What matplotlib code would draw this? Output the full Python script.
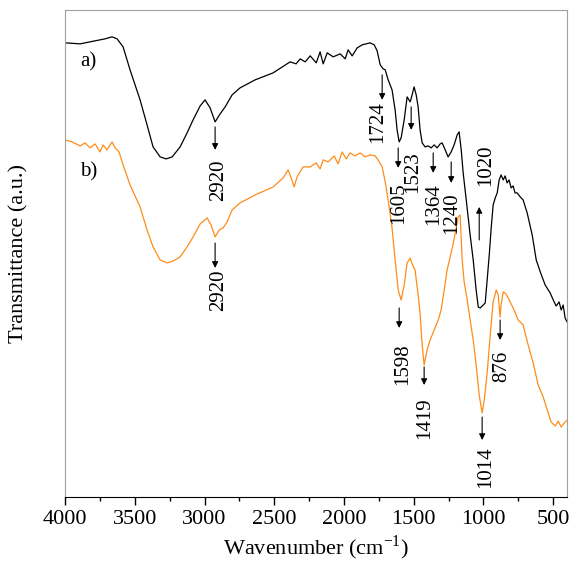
import matplotlib.pyplot as plt
from matplotlib.ticker import MultipleLocator

# --- Data (transmittance in arbitrary units) ---
wn_a = [4000, 3892, 3785, 3713, 3663, 3627, 3584, 3534, 3462, 3412, 3369, 3318,
        3275, 3232, 3175, 3125, 3082, 3031, 2996, 2960, 2924, 2888, 2852, 2802,
        2745, 2637, 2508, 2386, 2343, 2314, 2278, 2242, 2199, 2171, 2149, 2120,
        2077, 2027, 1991, 1970, 1941, 1905, 1869, 1841, 1812, 1783, 1762, 1740,
        1719, 1704, 1683, 1655, 1633, 1619, 1604, 1590, 1568, 1547, 1525, 1511,
        1497, 1482, 1468, 1454, 1439, 1418, 1396, 1375, 1353, 1332, 1310, 1296,
        1274, 1253, 1231, 1210, 1188, 1174, 1159, 1145, 1123, 1095, 1073, 1052,
        1037, 1023, 1001, 987, 973, 958, 944, 930, 915, 901, 887, 873, 858, 844,
        830, 816, 801, 787, 773, 758, 736, 715, 686, 650, 621, 592, 557, 521,
        499, 478, 457, 442, 428, 414, 399]
t_a = [457, 456, 459, 461, 463, 461, 453, 430, 400, 375, 353, 343,
       341, 343, 353, 367, 380, 394, 400, 392, 378, 386, 393, 405,
       412, 420, 427, 438, 436, 441, 438, 444, 437, 448, 436, 447,
       443, 446, 441, 450, 444, 452, 455, 456, 457, 455, 449, 435,
       431, 430, 420, 410, 390, 370, 358, 362, 380, 403, 398, 405,
       413, 405, 393, 370, 357, 353, 354, 352, 355, 352, 356, 357,
       350, 343, 348, 355, 365, 368, 350, 327, 300, 265, 240, 210,
       193, 192, 195, 197, 220, 245, 272, 295, 302, 307, 320, 325, 320, 324,
       317, 320, 312, 314, 307, 307, 303, 300, 287, 265, 240, 228, 215, 207,
       200, 194, 198, 190, 195, 182, 178]

wn_b = [4000, 3950, 3892, 3857, 3821, 3785, 3749, 3727, 3699, 3663, 3641, 3613,
        3584, 3534, 3462, 3412, 3369, 3318, 3268, 3225, 3175, 3125, 3082, 3031,
        2981, 2953, 2924, 2895, 2867, 2838, 2802, 2745, 2637, 2508, 2436, 2400,
        2379, 2357, 2336, 2293, 2242, 2199, 2171, 2149, 2113, 2070, 2042, 2013,
        1984, 1956, 1920, 1884, 1848, 1812, 1776, 1755, 1726, 1704, 1683, 1655,
        1633, 1611, 1590, 1568, 1547, 1525, 1511, 1490, 1468, 1454, 1439, 1425,
        1404, 1382, 1353, 1324, 1303, 1281, 1260, 1238, 1217, 1195, 1181, 1167,
        1152, 1138, 1116, 1095, 1073, 1052, 1030, 1009, 994, 973, 951, 930,
        908, 894, 880, 873, 858, 837, 808, 780, 751, 715, 679, 643, 607, 571,
        535, 514, 485, 464, 442, 421, 399]
t_b = [360, 358, 354, 357, 352, 356, 348, 355, 350, 358, 352, 348,
       335, 315, 293, 270, 253, 240, 237, 239, 243, 253, 263, 276,
       282, 275, 263, 270, 272, 278, 290, 297, 305, 313, 322, 330,
       322, 313, 323, 333, 333, 337, 331, 340, 338, 344, 336, 348,
       341, 347, 344, 347, 343, 345, 344, 340, 333, 318, 300, 272,
       240, 210, 200, 215, 237, 242, 236, 230, 205, 187, 155, 135,
       150, 160, 170, 180, 190, 210, 230, 243, 256, 272, 283, 285,
       240, 218, 200, 180, 160, 135, 105, 87, 100, 127, 165, 198,
       210, 205, 183, 195, 208, 206, 198, 190, 180, 175, 155, 137, 115, 103,
       87, 78, 74, 79, 73, 77, 80]

# peak labels: text, arrow x, arrow tail y, arrow head y, text x, text y
peaks = [
    ("2920", 2924, 373, 350, 2902, 320),
    ("2920", 2924, 257, 232, 2902, 210),
    ("1724", 1726, 425, 400, 1755, 378),
    ("1605", 1611, 352, 332, 1611, 297),
    ("1523", 1518, 393, 370, 1504, 328),
    ("1364", 1360, 347, 327, 1360, 296),
    ("1240", 1231, 338, 317, 1224, 287),
    ("1020", 1030, 260, 293, 987, 335),
    ("1598", 1604, 192, 172, 1582, 136),
    ("1419", 1425, 133, 115, 1418, 82),
    ("1014", 1009, 83, 60, 987, 33),
    ("876", 880, 180, 160, 865, 134),
]

plt.rcParams['font.family'] = ['Liberation Serif', 'DejaVu Serif']

fig = plt.figure(figsize=(5.81, 5.78), dpi=100)
ax = fig.add_axes([0.112, 0.140, 0.864, 0.843])

ax.plot(wn_a, t_a, color='black', linewidth=0.9)
ax.plot(wn_b, t_b, color='#ff8c1a', linewidth=0.9)

for label, x, y0, y1, tx, ty in peaks:
    ax.annotate('', xy=(x, y1), xytext=(x, y0),
                arrowprops=dict(arrowstyle='-|>', color='black', lw=0.8,
                                mutation_scale=9, shrinkA=0, shrinkB=0))
    ax.text(tx, ty, label, rotation=90, ha='center', va='center', fontsize=15)

ax.text(3892, 438, 'a)', fontsize=15, ha='left', va='center')
ax.text(3892, 328, 'b)', fontsize=15, ha='left', va='center')

ax.set_xlim(4000, 400)
ax.set_ylim(3, 490)
ax.xaxis.set_major_locator(MultipleLocator(500))
ax.xaxis.set_minor_locator(MultipleLocator(250))
ax.set_yticks([])
ax.tick_params(axis='x', which='major', direction='out', length=6, width=1,
               labelsize=16, colors='black')
ax.tick_params(axis='x', which='minor', direction='out', length=3, width=1)

for side in ['top', 'right', 'left']:
    ax.spines[side].set_color('#a0a0a0')
ax.spines['bottom'].set_color('black')

ax.set_xlabel('Wavenumber (cm$^{\\mathregular{-1}}$)', fontsize=16, labelpad=3)
ax.set_ylabel('Transmittance (a.u.)', fontsize=16, labelpad=26)

fig.savefig('out.png', dpi=100)
